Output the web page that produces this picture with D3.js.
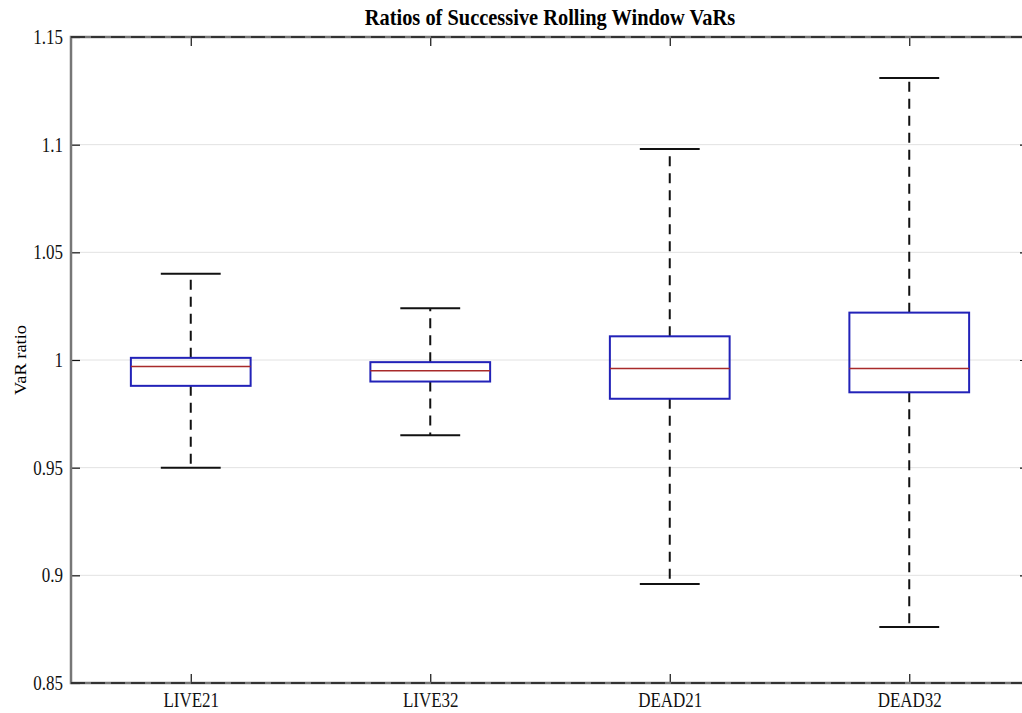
<!DOCTYPE html>
<html>
<head>
<meta charset="utf-8">
<script src="https://cdn.jsdelivr.net/npm/d3@7"></script>
<style>
    body { margin: 0; background: #fff; }
    svg { display: block; font-family: "Liberation Serif", "Times New Roman", serif; }
</style>
</head>
<body>
<div id="chart"></div>
<script>
// values
const categories = ["LIVE21", "LIVE32", "DEAD21", "DEAD32"];
const whiskerLow = [0.950, 0.965, 0.896, 0.876];
const q1 = [0.988, 0.990, 0.982, 0.985];
const medians = [0.997, 0.995, 0.996, 0.996];
const q3 = [1.001, 0.999, 1.011, 1.022];
const whiskerHigh = [1.040, 1.024, 1.098, 1.131];
const yTicks = [0.85, 0.9, 0.95, 1, 1.05, 1.1, 1.15];

// squeeze text a bit, the original is narrow
function squeeze(sel, k) {
    sel.each(function() {
        const w = this.getComputedTextLength();
        d3.select(this).attr("textLength", w * k).attr("lengthAdjust", "spacingAndGlyphs");
    });
}

class BoxPlot {
    constructor(element) {
        this.parentElement = element;
        this.data = categories.map((c, i) => ({
            name: c, lo: whiskerLow[i], q1: q1[i], med: medians[i], q3: q3[i], hi: whiskerHigh[i]
        }));
        this.initVis();
    }

    initVis() {
        const vis = this;

        vis.MARGIN = { LEFT: 71, TOP: 37 };
        vis.WIDTH = 958;
        vis.HEIGHT = 646;

        vis.svg = d3.select(vis.parentElement).append("svg")
            .attr("width", 1022)
            .attr("height", 713)
            .append("g")
            .attr("transform", `translate(${vis.MARGIN.LEFT}, ${vis.MARGIN.TOP})`);

        vis.x = d3.scalePoint()
            .domain(categories)
            .range([0, vis.WIDTH])
            .padding(0.5);

        vis.y = d3.scaleLinear()
            .domain([0.85, 1.15])
            .range([vis.HEIGHT, 0]);

        const step = vis.x.step();

        // grid
        vis.svg.append("g")
            .selectAll("line")
            .data(yTicks.slice(1, -1))
            .enter().append("line")
            .attr("x1", 0)
            .attr("x2", vis.WIDTH)
            .attr("y1", d => vis.y(d))
            .attr("y2", d => vis.y(d))
            .attr("stroke", "#e2e2e2")
            .attr("stroke-width", 1);

        // axes, ticks inside
        const fmt = d => String(d);
        vis.svg.append("g")
            .call(d3.axisLeft(vis.y).tickValues(yTicks).tickSize(-9).tickPadding(8).tickFormat(fmt))
            .call(g => g.select(".domain").remove());
        vis.svg.append("g")
            .attr("transform", `translate(${vis.WIDTH}, 0)`)
            .call(d3.axisRight(vis.y).tickValues(yTicks).tickSize(-9).tickFormat(""))
            .call(g => g.select(".domain").remove());
        vis.svg.append("g")
            .attr("transform", `translate(0, ${vis.HEIGHT})`)
            .call(d3.axisBottom(vis.x).tickSize(-9).tickPadding(10))
            .call(g => g.select(".domain").remove());
        vis.svg.append("g")
            .call(d3.axisTop(vis.x).tickSize(-9).tickFormat(""))
            .call(g => g.select(".domain").remove());

        vis.svg.selectAll(".tick line").attr("stroke", "#111").attr("stroke-width", 1.2);
        vis.svg.selectAll(".tick text")
            .attr("fill", "#111")
            .style("font-family", "'Liberation Serif', serif")
            .style("font-size", "20px");
        squeeze(vis.svg.selectAll(".tick text"), 0.85);

        // frame
        vis.svg.append("rect")
            .attr("width", vis.WIDTH)
            .attr("height", vis.HEIGHT)
            .attr("fill", "none")
            .attr("stroke", "#777")
            .attr("stroke-width", 2.5);
        [0, vis.HEIGHT].forEach(yy => {
            vis.svg.append("line")
                .attr("x1", 0).attr("x2", vis.WIDTH)
                .attr("y1", yy).attr("y2", yy)
                .attr("stroke", "#333")
                .attr("stroke-width", 2)
                .attr("stroke-dasharray", "14,6");
        });

        // boxes
        const boxes = vis.svg.append("g")
            .selectAll("g")
            .data(vis.data)
            .enter().append("g")
            .attr("transform", d => `translate(${vis.x(d.name)}, 0)`);

        boxes.append("line")
            .attr("y1", d => vis.y(d.q3)).attr("y2", d => vis.y(d.hi))
            .attr("stroke", "#111").attr("stroke-width", 2)
            .attr("stroke-dasharray", "10,7");
        boxes.append("line")
            .attr("y1", d => vis.y(d.q1)).attr("y2", d => vis.y(d.lo))
            .attr("stroke", "#111").attr("stroke-width", 2)
            .attr("stroke-dasharray", "10,7");

        boxes.selectAll(".cap")
            .data(d => [d.lo, d.hi])
            .enter().append("line")
            .attr("class", "cap")
            .attr("x1", -step * 0.125).attr("x2", step * 0.125)
            .attr("y1", v => vis.y(v)).attr("y2", v => vis.y(v))
            .attr("stroke", "#111").attr("stroke-width", 2);

        boxes.append("rect")
            .attr("x", -step * 0.25)
            .attr("width", step * 0.5)
            .attr("y", d => vis.y(d.q3))
            .attr("height", d => vis.y(d.q1) - vis.y(d.q3))
            .attr("fill", "none")
            .attr("stroke", "#2222b8")
            .attr("stroke-width", 2);

        boxes.append("line")
            .attr("x1", -step * 0.25).attr("x2", step * 0.25)
            .attr("y1", d => vis.y(d.med)).attr("y2", d => vis.y(d.med))
            .attr("stroke", "#a82a2a").attr("stroke-width", 1.5);

        // title
        vis.svg.append("text")
            .attr("x", vis.WIDTH / 2)
            .attr("y", -12)
            .attr("text-anchor", "middle")
            .style("font-size", "24px")
            .style("font-weight", "bold")
            .text("Ratios of Successive Rolling Window VaRs")
            .call(squeeze, 0.85);

        // y label
        vis.svg.append("text")
            .attr("transform", `translate(-45, ${vis.HEIGHT / 2}) rotate(-90)`)
            .attr("text-anchor", "middle")
            .style("font-size", "17px")
            .text("VaR ratio")
            .attr("textLength", 70)
            .attr("lengthAdjust", "spacingAndGlyphs");
    }
}

new BoxPlot("#chart");
</script>
</body>
</html>
